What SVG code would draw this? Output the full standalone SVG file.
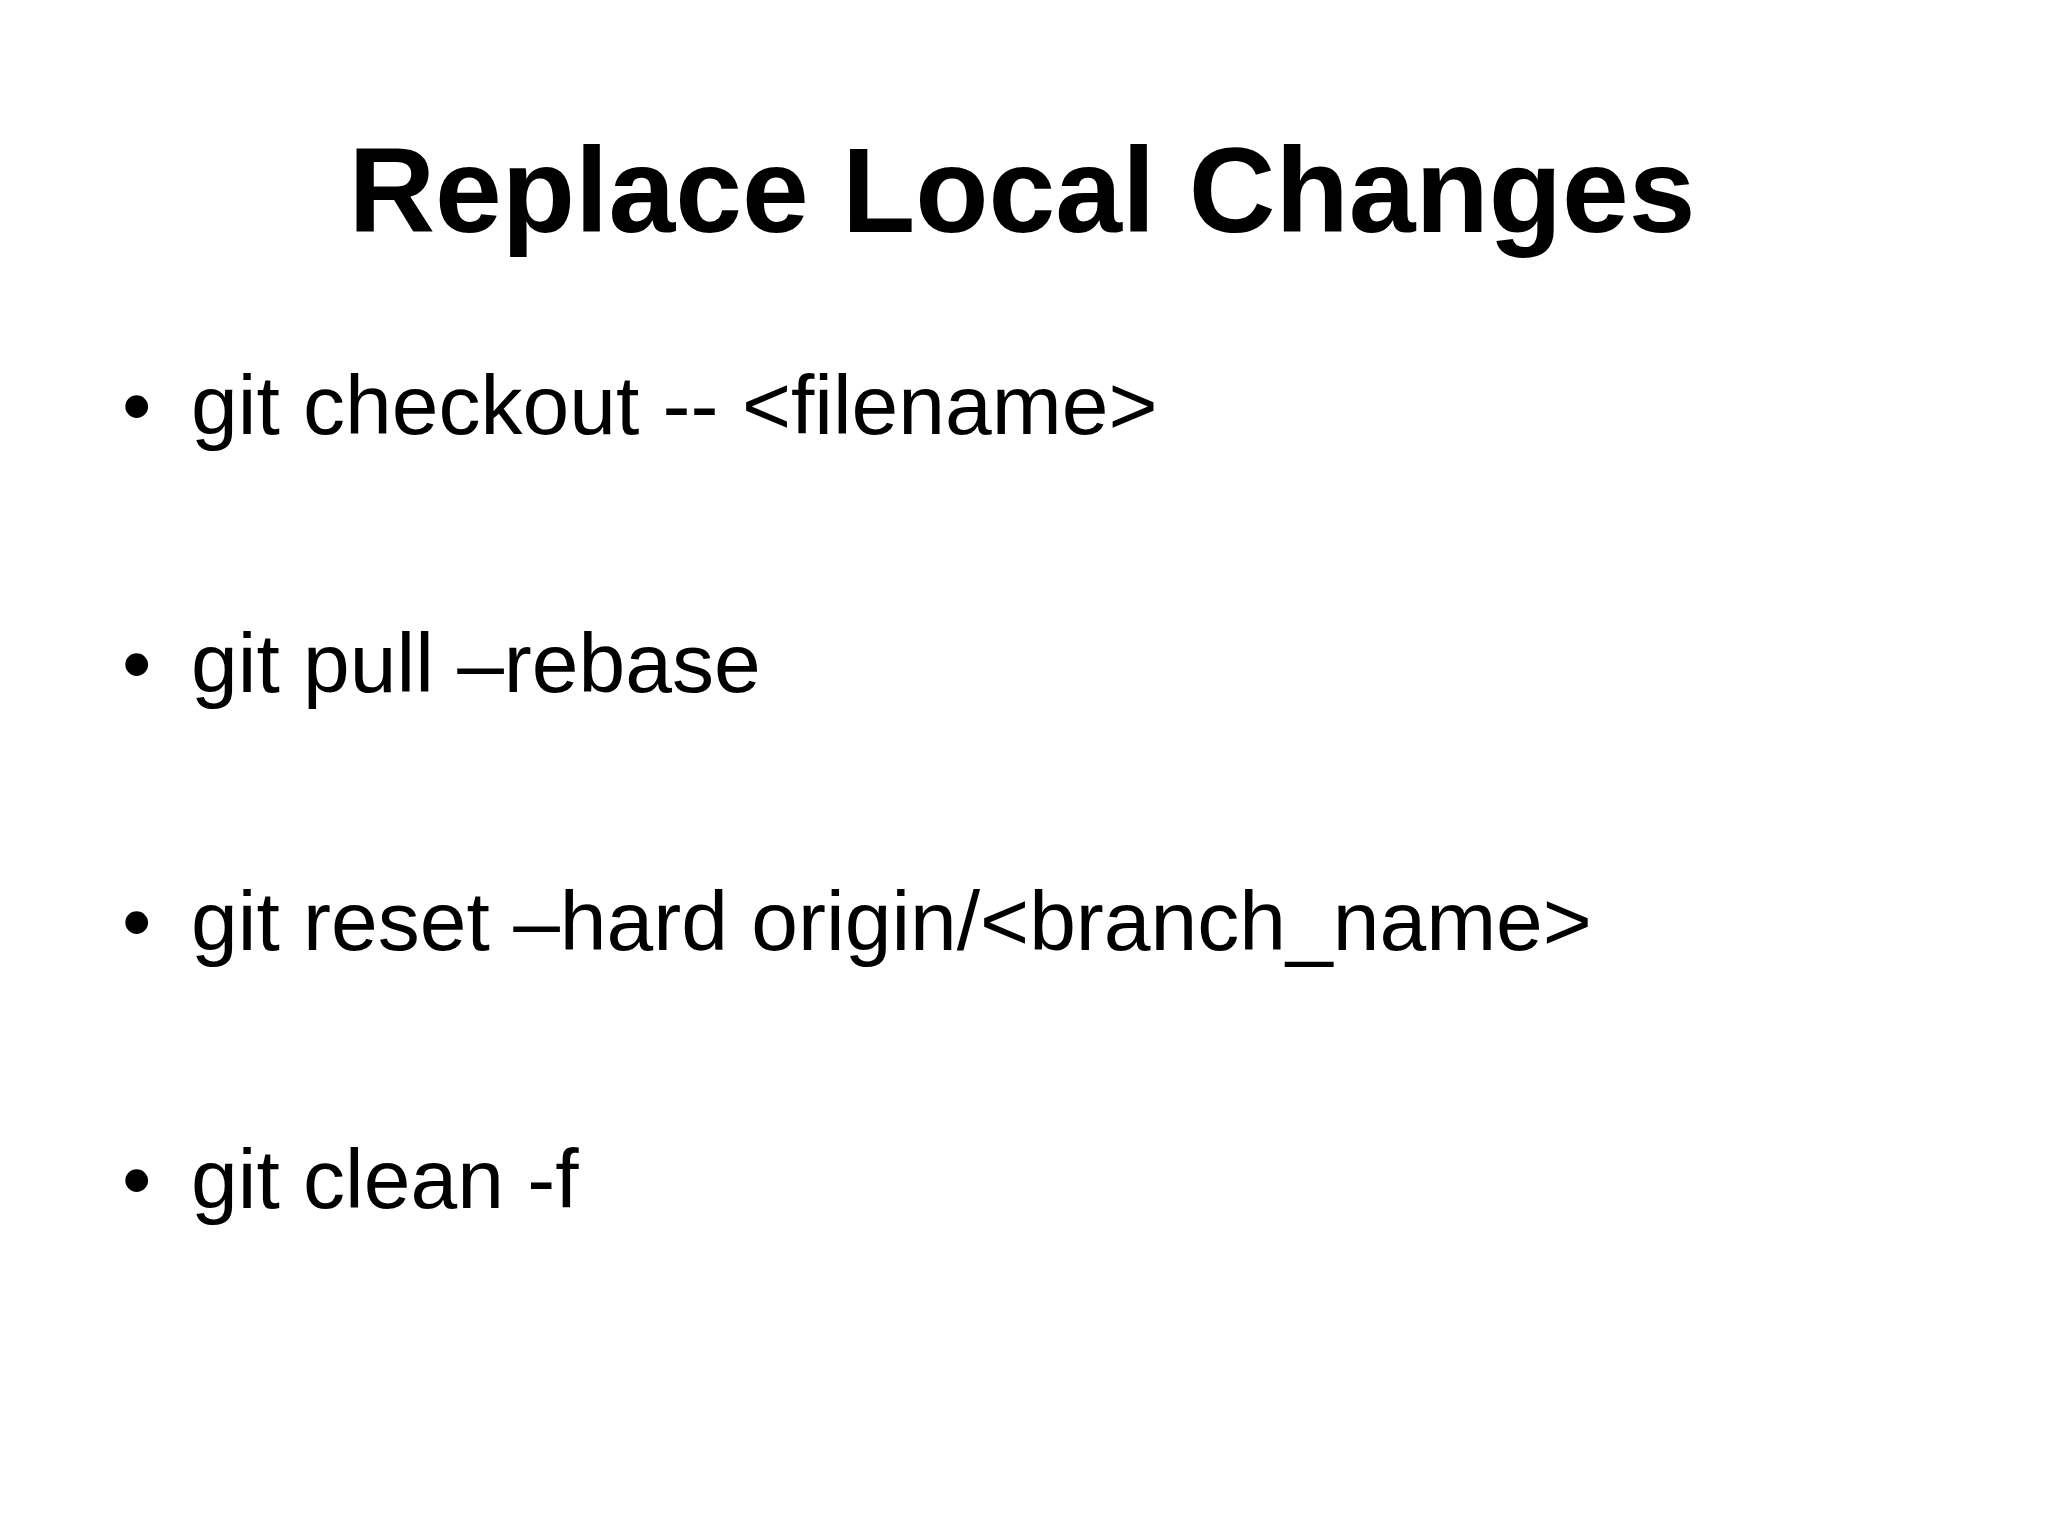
<svg xmlns="http://www.w3.org/2000/svg" width="2048" height="1535" viewBox="0 0 2048 1535">
<style>
.t{font-family:"Liberation Sans",Arial,sans-serif;font-weight:bold;font-size:120px;fill:#000}
.b{font-family:"Liberation Sans",Arial,sans-serif;font-size:84px;fill:#000}
</style>
<rect width="2048" height="1535" fill="#fff"/>
<g id="title"><text class="t" x="1022" y="232" text-anchor="middle">Replace Local Changes</text></g>
<g id="item1"><text class="b" x="122" y="434">•</text><text class="b" x="191" y="434">git checkout -- &lt;filename&gt;</text></g>
<g id="item2"><text class="b" x="122" y="692">•</text><text class="b" x="191" y="692">git pull –rebase</text></g>
<g id="item3"><text class="b" x="122" y="950">•</text><text class="b" x="191" y="950">git reset –hard origin/&lt;branch_name&gt;</text></g>
<g id="item4"><text class="b" x="122" y="1208">•</text><text class="b" x="191" y="1208">git clean -f</text></g>
<g id="connectors"/>
</svg>
